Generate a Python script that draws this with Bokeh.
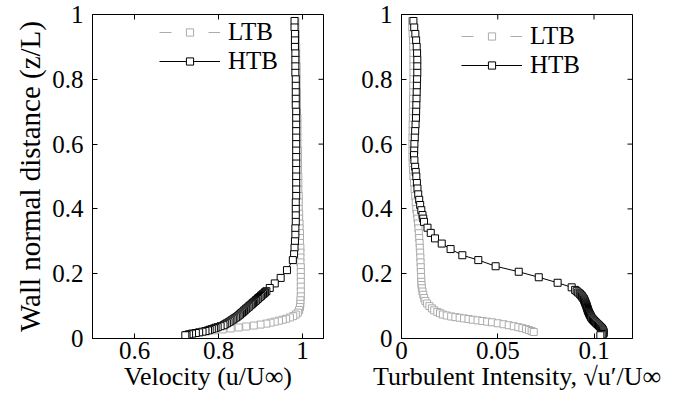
import math
from bokeh.plotting import figure
from bokeh.models import Range1d, FixedTicker, Legend, LegendItem
from bokeh.layouts import row
from bokeh.embed import file_html
from bokeh.resources import INLINE

# ---------------- data ----------------
# Left panel: velocity u/U_inf vs z/L
vel_htb_z = [0.98, 0.96, 0.94, 0.92, 0.90, 0.88, 0.86, 0.84, 0.82, 0.80, 0.78, 0.76, 0.74,
             0.72, 0.70, 0.68, 0.66, 0.64, 0.62, 0.60, 0.58, 0.56, 0.54, 0.52, 0.50, 0.48,
             0.46, 0.44, 0.42, 0.40, 0.38, 0.36, 0.34, 0.32, 0.30, 0.28, 0.26,
             0.242, 0.211, 0.187, 0.170, 0.156,
             0.146, 0.143, 0.140, 0.137, 0.134, 0.131, 0.128, 0.125, 0.122, 0.119, 0.116,
             0.113, 0.110, 0.107, 0.104, 0.101, 0.098, 0.095, 0.092, 0.089, 0.086, 0.083,
             0.080, 0.077, 0.074, 0.071, 0.068, 0.065, 0.062, 0.059, 0.056, 0.053, 0.050,
             0.047, 0.044, 0.041, 0.038, 0.035, 0.033, 0.031, 0.029, 0.027, 0.025, 0.023,
             0.021, 0.019, 0.017, 0.015, 0.013, 0.011, 0.010]
vel_htb_u = [0.981, 0.981, 0.982, 0.982, 0.982, 0.983, 0.983, 0.983, 0.983, 0.984, 0.984, 0.984, 0.984,
             0.984, 0.985, 0.985, 0.985, 0.985, 0.985, 0.985, 0.985, 0.985, 0.985, 0.985, 0.985, 0.985,
             0.985, 0.985, 0.984, 0.984, 0.984, 0.984, 0.983, 0.983, 0.982, 0.981, 0.980,
             0.977, 0.963, 0.948, 0.934, 0.922,
             0.914, 0.911, 0.909, 0.906, 0.903, 0.901, 0.898, 0.895, 0.893, 0.890, 0.888,
             0.885, 0.882, 0.880, 0.877, 0.874, 0.872, 0.869, 0.866, 0.864, 0.861, 0.859,
             0.856, 0.853, 0.851, 0.848, 0.845, 0.842, 0.838, 0.835, 0.831, 0.828, 0.824,
             0.820, 0.816, 0.812, 0.805, 0.798, 0.793, 0.789, 0.784, 0.779, 0.775, 0.769,
             0.762, 0.754, 0.746, 0.737, 0.730, 0.724, 0.721]

vel_ltb_z = [0.98, 0.96, 0.94, 0.92, 0.90, 0.88, 0.86, 0.84, 0.82, 0.80, 0.78, 0.76, 0.74,
             0.72, 0.70, 0.68, 0.66, 0.64, 0.62, 0.60, 0.58, 0.56, 0.54, 0.52, 0.50, 0.48,
             0.46, 0.44, 0.42, 0.40,
             0.385, 0.37, 0.355, 0.34, 0.325, 0.31, 0.295, 0.28, 0.265, 0.25, 0.235, 0.22,
             0.205, 0.19, 0.175, 0.16, 0.145, 0.13, 0.118, 0.107, 0.097, 0.088, 0.080, 0.074,
             0.069, 0.065, 0.061, 0.058, 0.055, 0.052, 0.049, 0.046, 0.043, 0.040, 0.037,
             0.034, 0.031, 0.028, 0.025, 0.022, 0.019, 0.016, 0.013]
vel_ltb_u = [0.983, 0.983, 0.984, 0.984, 0.985, 0.985, 0.985, 0.986, 0.986, 0.986, 0.986, 0.987, 0.987,
             0.987, 0.987, 0.988, 0.988, 0.988, 0.988, 0.988, 0.989, 0.989, 0.989, 0.989, 0.990, 0.990,
             0.990, 0.991, 0.991, 0.991,
             0.992, 0.992, 0.993, 0.993, 0.994, 0.994, 0.994, 0.995, 0.995, 0.995, 0.995, 0.996,
             0.996, 0.996, 0.996, 0.996, 0.996, 0.996, 0.995, 0.995, 0.994, 0.992, 0.989, 0.984,
             0.978, 0.970, 0.961, 0.953, 0.944, 0.934, 0.924, 0.914, 0.900, 0.884, 0.866,
             0.848, 0.829, 0.810, 0.790, 0.771, 0.754, 0.740, 0.730]

# Right panel: turbulent intensity vs z/L
ti_htb_z = [0.98, 0.96, 0.94, 0.92, 0.90, 0.88, 0.86, 0.84, 0.82, 0.80, 0.78, 0.76, 0.74,
            0.72, 0.70, 0.68, 0.66, 0.64, 0.62, 0.60, 0.58,
            0.566, 0.55, 0.53, 0.514, 0.50, 0.48, 0.463, 0.445, 0.428, 0.412, 0.396, 0.381,
            0.370, 0.360,
            0.342, 0.326, 0.309, 0.293, 0.276, 0.257, 0.242, 0.223, 0.206, 0.189, 0.172, 0.158,
            0.150, 0.146, 0.142, 0.139, 0.136, 0.133, 0.130, 0.127, 0.124, 0.121, 0.118, 0.115,
            0.112, 0.109, 0.106, 0.103, 0.100, 0.097, 0.094, 0.091, 0.088, 0.085, 0.082, 0.079,
            0.076, 0.073, 0.070, 0.067, 0.064, 0.061, 0.058, 0.055, 0.052, 0.049, 0.046, 0.043,
            0.040, 0.037, 0.034, 0.031, 0.028, 0.025, 0.022, 0.019, 0.016, 0.014, 0.012, 0.010]
ti_htb_v = [0.0062, 0.0066, 0.0072, 0.0076, 0.0079, 0.0081, 0.0082, 0.0082, 0.0082, 0.0081, 0.0080,
            0.0079, 0.0078, 0.0077, 0.0076, 0.0075, 0.0073, 0.0071, 0.0069, 0.0067, 0.0066,
            0.0065, 0.0067, 0.0071, 0.0074, 0.0077, 0.0080, 0.0083, 0.0087, 0.0092, 0.0097, 0.0103,
            0.0109, 0.0113, 0.0117,
            0.0135, 0.0152, 0.0174, 0.0209, 0.0255, 0.0316, 0.0399, 0.0489, 0.0609, 0.0713, 0.0811,
            0.0884,
            0.0902, 0.0910, 0.0918, 0.0925, 0.0929, 0.0934, 0.0938, 0.0941, 0.0945, 0.0948, 0.0950,
            0.0952, 0.0954, 0.0956, 0.0958, 0.0960, 0.0962, 0.0963, 0.0965, 0.0967, 0.0968, 0.0970,
            0.0972, 0.0974, 0.0977, 0.0979, 0.0982, 0.0984, 0.0987, 0.0991, 0.0995, 0.1000, 0.1005,
            0.1010, 0.1015, 0.1021, 0.1026, 0.1031, 0.1036, 0.1041, 0.1044, 0.1047, 0.1049, 0.1050,
            0.1050, 0.1046, 0.1040, 0.1033]

ti_ltb_z = [0.98, 0.96, 0.94, 0.92, 0.90, 0.88, 0.86, 0.84, 0.82, 0.80, 0.78, 0.76, 0.74,
            0.72, 0.70, 0.68, 0.66, 0.64, 0.62, 0.60, 0.58, 0.56, 0.54, 0.52, 0.50, 0.48,
            0.46, 0.44, 0.42, 0.40, 0.385,
            0.37, 0.355, 0.34, 0.325, 0.31, 0.295, 0.28, 0.265, 0.25, 0.235, 0.22, 0.205, 0.19,
            0.175, 0.165, 0.155, 0.145, 0.135, 0.125, 0.116, 0.108, 0.100, 0.093, 0.087, 0.082,
            0.078, 0.074, 0.071, 0.068, 0.066, 0.064, 0.062, 0.060, 0.058, 0.056, 0.054, 0.052,
            0.050, 0.047, 0.044, 0.041, 0.038, 0.035, 0.032, 0.029, 0.026, 0.023, 0.020]
ti_ltb_v = [0.0055, 0.0056, 0.0058, 0.0060, 0.0061, 0.0062, 0.0062, 0.0062, 0.0062, 0.0062, 0.0061,
            0.0061, 0.0060, 0.0060, 0.0059, 0.0059, 0.0058, 0.0058, 0.0057, 0.0057, 0.0057, 0.0057,
            0.0058, 0.0060, 0.0062, 0.0065, 0.0068, 0.0071, 0.0074, 0.0077, 0.0080,
            0.0083, 0.0086, 0.0088, 0.0090, 0.0092, 0.0094, 0.0095, 0.0097, 0.0098, 0.0099, 0.0100,
            0.0101, 0.0102, 0.0103, 0.0104, 0.0106, 0.0109, 0.0113, 0.0118, 0.0124, 0.0133, 0.0145,
            0.0158, 0.0170, 0.0186, 0.0200, 0.0215, 0.0235, 0.0258, 0.0280, 0.0302, 0.0325, 0.0348,
            0.0370, 0.0395, 0.0420, 0.0445, 0.0470, 0.0500, 0.0530, 0.0557, 0.0583, 0.0607, 0.0628,
            0.0647, 0.0662, 0.0676, 0.0687]

y_range = (0.0, 1.0)
vel_range = (0.5, 1.05)
ti_range = (0.0, 0.12)
y_ticks = [0, 0.2, 0.4, 0.6, 0.8, 1.0]
y_tick_labels = ["0", "0.2", "0.4", "0.6", "0.8", "1"]
vel_ticks = [0.6, 0.8, 1.0]
vel_tick_labels = ["0.6", "0.8", "1"]
ti_ticks = [0, 0.05, 0.1]
ti_tick_labels = ["0", "0.05", "0.1"]

series_labels = ["LTB", "HTB"]

# ---------------- style ----------------
FONT = "Liberation Serif"
TICK_FS = "25px"
TITLE_FS = "26px"
YTITLE_FS = "29px"
GRAY = "#ababab"
TICK_LEN = 5


def style_axis(ax, ticks, labels):
    ax.ticker = FixedTicker(ticks=ticks)
    ax.major_label_overrides = {t: l for t, l in zip(ticks, labels)}
    ax.major_tick_in = TICK_LEN
    ax.major_tick_out = 0
    ax.minor_tick_line_color = None
    ax.axis_line_color = "black"
    ax.major_tick_line_color = "black"
    ax.major_label_text_font = FONT
    ax.major_label_text_font_size = TICK_FS
    ax.major_label_text_color = "black"
    ax.axis_label_text_font = FONT
    ax.axis_label_text_font_style = "normal"
    ax.axis_label_text_font_size = TITLE_FS
    ax.axis_label_text_color = "black"


def make_panel(xrange_, xticks, xlabels, xtitle, ytitle, xs_ltb, z_ltb, xs_htb, z_htb,
               border_left, border_right, legend_xy):
    p = figure(frame_width=231, frame_height=324,
               x_range=Range1d(*xrange_), y_range=Range1d(*y_range),
               output_backend="svg", toolbar_location=None,
               min_border_left=border_left, min_border_right=border_right,
               min_border_top=14, min_border_bottom=0,
               background_fill_color="white", border_fill_color="white")
    p.grid.visible = False
    p.outline_line_color = "black"
    p.outline_line_width = 1

    style_axis(p.xaxis[0], xticks, xlabels)
    p.xaxis[0].axis_label = xtitle
    p.xaxis[0].major_label_standoff = 3
    p.xaxis[0].axis_label_standoff = 0
    style_axis(p.yaxis[0], y_ticks, y_tick_labels)
    p.yaxis[0].major_label_standoff = 9
    if ytitle:
        p.yaxis[0].axis_label = ytitle
        p.yaxis[0].axis_label_standoff = 3
        p.yaxis[0].axis_label_text_font_size = YTITLE_FS

    # mirrored inward ticks on the top and right edges of the box
    p.ray(x=xticks, y=[y_range[1]] * len(xticks), length=TICK_LEN, length_units="screen",
          angle=-math.pi / 2, line_color="black", line_width=1)
    p.ray(x=[xrange_[1]] * len(y_ticks), y=y_ticks, length=TICK_LEN, length_units="screen",
          angle=math.pi, line_color="black", line_width=1)

    l1 = p.line(xs_ltb, z_ltb, line_color=GRAY, line_width=1, line_dash="12 37")
    s1 = p.scatter(xs_ltb, z_ltb, marker="square", size=7, line_color=GRAY,
                   fill_color="white", line_width=1)
    l2 = p.line(xs_htb, z_htb, line_color="black", line_width=1)
    s2 = p.scatter(xs_htb, z_htb, marker="square", size=7, line_color="black",
                   fill_color="white", line_width=1)

    legend = Legend(items=[LegendItem(label=series_labels[0], renderers=[l1, s1]),
                           LegendItem(label=series_labels[1], renderers=[l2, s2])],
                    location=legend_xy, glyph_width=61, glyph_height=18,
                    label_standoff=8, spacing=1, padding=4,
                    border_line_color=None, background_fill_alpha=0,
                    label_text_font=FONT, label_text_font_size=TICK_FS,
                    label_text_color="black")
    p.add_layout(legend)
    return p


p1 = make_panel(vel_range, vel_ticks, vel_tick_labels, "Velocity (u/U\u221e)",
                "Wall normal distance (z/L)", vel_ltb_u, vel_ltb_z, vel_htb_u, vel_htb_z,
                92, 10, (67, 263))
p2 = make_panel(ti_range, ti_ticks, ti_tick_labels,
                "Turbulent Intensity, \u221au\u2032/U\u221e", None,
                ti_ltb_v, ti_ltb_z, ti_htb_v, ti_htb_z,
                68, 40, (60, 259))

layout = row(p1, p2, spacing=0)
open("out.html", "w").write(file_html(layout, INLINE))
